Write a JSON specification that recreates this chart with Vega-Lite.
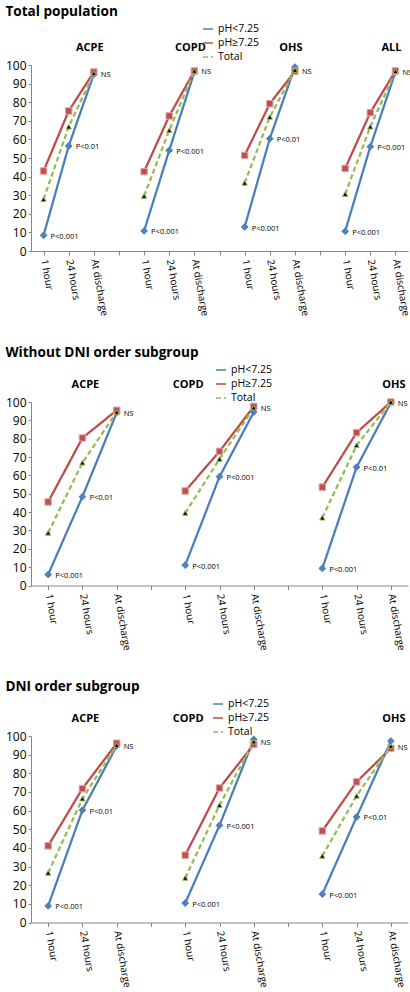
{
  "$schema": "https://vega.github.io/schema/vega-lite/v6.json",
  "background": "white",
  "spacing": 29,
  "config": {
    "view": {"stroke": null},
    "font": "Open Sans",
    "title": {"fontSize": 13.6, "fontWeight": "bold", "anchor": "start", "color": "black"},
    "legend": {"labelFontSize": 10.5, "labelColor": "black"},
    "text": {"color": "black"}
  },
  "datasets": {
    "vals": [
      {"p":1,"g":"ACPE","t":"1 hour","s":"pH<7.25","v":8.4},
      {"p":1,"g":"ACPE","t":"24 hours","s":"pH<7.25","v":56.5},
      {"p":1,"g":"ACPE","t":"At discharge","s":"pH<7.25","v":95.0},
      {"p":1,"g":"ACPE","t":"1 hour","s":"pH≥7.25","v":43.0},
      {"p":1,"g":"ACPE","t":"24 hours","s":"pH≥7.25","v":75.3},
      {"p":1,"g":"ACPE","t":"At discharge","s":"pH≥7.25","v":96.2},
      {"p":1,"g":"ACPE","t":"1 hour","s":"Total","v":27.8},
      {"p":1,"g":"ACPE","t":"24 hours","s":"Total","v":66.8},
      {"p":1,"g":"ACPE","t":"At discharge","s":"Total","v":95.5},
      {"p":1,"g":"COPD","t":"1 hour","s":"pH<7.25","v":10.8},
      {"p":1,"g":"COPD","t":"24 hours","s":"pH<7.25","v":54.1},
      {"p":1,"g":"COPD","t":"At discharge","s":"pH<7.25","v":96.2},
      {"p":1,"g":"COPD","t":"1 hour","s":"pH≥7.25","v":42.7},
      {"p":1,"g":"COPD","t":"24 hours","s":"pH≥7.25","v":72.6},
      {"p":1,"g":"COPD","t":"At discharge","s":"pH≥7.25","v":96.8},
      {"p":1,"g":"COPD","t":"1 hour","s":"Total","v":29.6},
      {"p":1,"g":"COPD","t":"24 hours","s":"Total","v":64.9},
      {"p":1,"g":"COPD","t":"At discharge","s":"Total","v":96.8},
      {"p":1,"g":"OHS","t":"1 hour","s":"pH<7.25","v":12.9},
      {"p":1,"g":"OHS","t":"24 hours","s":"pH<7.25","v":60.4},
      {"p":1,"g":"OHS","t":"At discharge","s":"pH<7.25","v":98.9},
      {"p":1,"g":"OHS","t":"1 hour","s":"pH≥7.25","v":51.4},
      {"p":1,"g":"OHS","t":"24 hours","s":"pH≥7.25","v":79.2},
      {"p":1,"g":"OHS","t":"At discharge","s":"pH≥7.25","v":96.6},
      {"p":1,"g":"OHS","t":"1 hour","s":"Total","v":36.6},
      {"p":1,"g":"OHS","t":"24 hours","s":"Total","v":72.0},
      {"p":1,"g":"OHS","t":"At discharge","s":"Total","v":97.3},
      {"p":1,"g":"ALL","t":"1 hour","s":"pH<7.25","v":10.6},
      {"p":1,"g":"ALL","t":"24 hours","s":"pH<7.25","v":56.1},
      {"p":1,"g":"ALL","t":"At discharge","s":"pH<7.25","v":96.2},
      {"p":1,"g":"ALL","t":"1 hour","s":"pH≥7.25","v":44.4},
      {"p":1,"g":"ALL","t":"24 hours","s":"pH≥7.25","v":74.4},
      {"p":1,"g":"ALL","t":"At discharge","s":"pH≥7.25","v":96.8},
      {"p":1,"g":"ALL","t":"1 hour","s":"Total","v":30.6},
      {"p":1,"g":"ALL","t":"24 hours","s":"Total","v":66.8},
      {"p":1,"g":"ALL","t":"At discharge","s":"Total","v":96.6},
      {"p":2,"g":"ACPE","t":"1 hour","s":"pH<7.25","v":6.0},
      {"p":2,"g":"ACPE","t":"24 hours","s":"pH<7.25","v":48.4},
      {"p":2,"g":"ACPE","t":"At discharge","s":"pH<7.25","v":94.2},
      {"p":2,"g":"ACPE","t":"1 hour","s":"pH≥7.25","v":45.5},
      {"p":2,"g":"ACPE","t":"24 hours","s":"pH≥7.25","v":80.4},
      {"p":2,"g":"ACPE","t":"At discharge","s":"pH≥7.25","v":95.5},
      {"p":2,"g":"ACPE","t":"1 hour","s":"Total","v":28.7},
      {"p":2,"g":"ACPE","t":"24 hours","s":"Total","v":66.9},
      {"p":2,"g":"ACPE","t":"At discharge","s":"Total","v":94.5},
      {"p":2,"g":"COPD","t":"1 hour","s":"pH<7.25","v":11.1},
      {"p":2,"g":"COPD","t":"24 hours","s":"pH<7.25","v":59.3},
      {"p":2,"g":"COPD","t":"At discharge","s":"pH<7.25","v":94.5},
      {"p":2,"g":"COPD","t":"1 hour","s":"pH≥7.25","v":51.5},
      {"p":2,"g":"COPD","t":"24 hours","s":"pH≥7.25","v":73.1},
      {"p":2,"g":"COPD","t":"At discharge","s":"pH≥7.25","v":97.6},
      {"p":2,"g":"COPD","t":"1 hour","s":"Total","v":39.5},
      {"p":2,"g":"COPD","t":"24 hours","s":"Total","v":68.9},
      {"p":2,"g":"COPD","t":"At discharge","s":"Total","v":96.9},
      {"p":2,"g":"OHS","t":"1 hour","s":"pH<7.25","v":9.3},
      {"p":2,"g":"OHS","t":"24 hours","s":"pH<7.25","v":64.5},
      {"p":2,"g":"OHS","t":"At discharge","s":"pH<7.25","v":99.6},
      {"p":2,"g":"OHS","t":"1 hour","s":"pH≥7.25","v":53.6},
      {"p":2,"g":"OHS","t":"24 hours","s":"pH≥7.25","v":83.3},
      {"p":2,"g":"OHS","t":"At discharge","s":"pH≥7.25","v":100.0},
      {"p":2,"g":"OHS","t":"1 hour","s":"Total","v":36.9},
      {"p":2,"g":"OHS","t":"24 hours","s":"Total","v":76.4},
      {"p":2,"g":"OHS","t":"At discharge","s":"Total","v":100.0},
      {"p":3,"g":"ACPE","t":"1 hour","s":"pH<7.25","v":8.9},
      {"p":3,"g":"ACPE","t":"24 hours","s":"pH<7.25","v":60.2},
      {"p":3,"g":"ACPE","t":"At discharge","s":"pH<7.25","v":94.6},
      {"p":3,"g":"ACPE","t":"1 hour","s":"pH≥7.25","v":41.1},
      {"p":3,"g":"ACPE","t":"24 hours","s":"pH≥7.25","v":71.8},
      {"p":3,"g":"ACPE","t":"At discharge","s":"pH≥7.25","v":96.1},
      {"p":3,"g":"ACPE","t":"1 hour","s":"Total","v":26.6},
      {"p":3,"g":"ACPE","t":"24 hours","s":"Total","v":66.4},
      {"p":3,"g":"ACPE","t":"At discharge","s":"Total","v":95.0},
      {"p":3,"g":"COPD","t":"1 hour","s":"pH<7.25","v":10.4},
      {"p":3,"g":"COPD","t":"24 hours","s":"pH<7.25","v":52.1},
      {"p":3,"g":"COPD","t":"At discharge","s":"pH<7.25","v":98.2},
      {"p":3,"g":"COPD","t":"1 hour","s":"pH≥7.25","v":36.1},
      {"p":3,"g":"COPD","t":"24 hours","s":"pH≥7.25","v":72.1},
      {"p":3,"g":"COPD","t":"At discharge","s":"pH≥7.25","v":95.5},
      {"p":3,"g":"COPD","t":"1 hour","s":"Total","v":23.9},
      {"p":3,"g":"COPD","t":"24 hours","s":"Total","v":62.9},
      {"p":3,"g":"COPD","t":"At discharge","s":"Total","v":97.0},
      {"p":3,"g":"OHS","t":"1 hour","s":"pH<7.25","v":15.2},
      {"p":3,"g":"OHS","t":"24 hours","s":"pH<7.25","v":56.6},
      {"p":3,"g":"OHS","t":"At discharge","s":"pH<7.25","v":97.3},
      {"p":3,"g":"OHS","t":"1 hour","s":"pH≥7.25","v":49.1},
      {"p":3,"g":"OHS","t":"24 hours","s":"pH≥7.25","v":75.4},
      {"p":3,"g":"OHS","t":"At discharge","s":"pH≥7.25","v":93.4},
      {"p":3,"g":"OHS","t":"1 hour","s":"Total","v":35.7},
      {"p":3,"g":"OHS","t":"24 hours","s":"Total","v":67.9},
      {"p":3,"g":"OHS","t":"At discharge","s":"Total","v":94.6}
    ],
    "notes": [
      {"p":1,"g":"ACPE","t":"At discharge","v":95.5,"label":"NS"},
      {"p":1,"g":"ACPE","t":"24 hours","v":56.5,"label":"P<0.01"},
      {"p":1,"g":"ACPE","t":"1 hour","v":8.4,"label":"P<0.001"},
      {"p":1,"g":"COPD","t":"At discharge","v":96.8,"label":"NS"},
      {"p":1,"g":"COPD","t":"24 hours","v":54.1,"label":"P<0.001"},
      {"p":1,"g":"COPD","t":"1 hour","v":10.8,"label":"P<0.001"},
      {"p":1,"g":"OHS","t":"At discharge","v":97.3,"label":"NS"},
      {"p":1,"g":"OHS","t":"24 hours","v":60.4,"label":"P<0.01"},
      {"p":1,"g":"OHS","t":"1 hour","v":12.9,"label":"P<0.001"},
      {"p":1,"g":"ALL","t":"At discharge","v":96.6,"label":"NS"},
      {"p":1,"g":"ALL","t":"24 hours","v":56.1,"label":"P<0.001"},
      {"p":1,"g":"ALL","t":"1 hour","v":10.6,"label":"P<0.001"},
      {"p":2,"g":"ACPE","t":"At discharge","v":94.5,"label":"NS"},
      {"p":2,"g":"ACPE","t":"24 hours","v":48.4,"label":"P<0.01"},
      {"p":2,"g":"ACPE","t":"1 hour","v":6.0,"label":"P<0.001"},
      {"p":2,"g":"COPD","t":"At discharge","v":96.9,"label":"NS"},
      {"p":2,"g":"COPD","t":"24 hours","v":59.3,"label":"P<0.001"},
      {"p":2,"g":"COPD","t":"1 hour","v":11.1,"label":"P<0.001"},
      {"p":2,"g":"OHS","t":"At discharge","v":100.0,"label":"NS"},
      {"p":2,"g":"OHS","t":"24 hours","v":64.5,"label":"P<0.01"},
      {"p":2,"g":"OHS","t":"1 hour","v":9.3,"label":"P<0.001"},
      {"p":3,"g":"ACPE","t":"At discharge","v":95.0,"label":"NS"},
      {"p":3,"g":"ACPE","t":"24 hours","v":60.2,"label":"P<0.01"},
      {"p":3,"g":"ACPE","t":"1 hour","v":8.9,"label":"P<0.001"},
      {"p":3,"g":"COPD","t":"At discharge","v":97.0,"label":"NS"},
      {"p":3,"g":"COPD","t":"24 hours","v":52.1,"label":"P<0.001"},
      {"p":3,"g":"COPD","t":"1 hour","v":10.4,"label":"P<0.001"},
      {"p":3,"g":"OHS","t":"At discharge","v":94.6,"label":"NS"},
      {"p":3,"g":"OHS","t":"24 hours","v":56.6,"label":"P<0.01"},
      {"p":3,"g":"OHS","t":"1 hour","v":15.2,"label":"P<0.001"}
    ],
    "heads": [
      {"p":1,"g":"ACPE","t":"At discharge"},
      {"p":1,"g":"COPD","t":"At discharge"},
      {"p":1,"g":"OHS","t":"At discharge"},
      {"p":1,"g":"ALL","t":"At discharge"},
      {"p":2,"g":"ACPE","t":"24 hours"},
      {"p":2,"g":"COPD","t":"1 hour"},
      {"p":2,"g":"OHS","t":"At discharge"},
      {"p":3,"g":"ACPE","t":"24 hours"},
      {"p":3,"g":"COPD","t":"1 hour"},
      {"p":3,"g":"OHS","t":"At discharge"}
    ]
  },
  "resolve": {
    "scale": {"x": "independent", "y": "independent", "color": "independent", "strokeDash": "independent"},
    "legend": {"color": "independent", "strokeDash": "independent"}
  },
  "vconcat": [
    {
      "width": 377, "height": 186,
      "title": "Total population",
      "encoding": {
        "x": {"field": "k", "type": "nominal",
          "scale": {"paddingInner": 0, "paddingOuter": 0,
            "domain": ["ACPE|1 hour","ACPE|24 hours","ACPE|At discharge","_1","COPD|1 hour","COPD|24 hours","COPD|At discharge","_2","OHS|1 hour","OHS|24 hours","OHS|At discharge","_3","ALL|1 hour","ALL|24 hours","ALL|At discharge"]},
          "axis": {"title": null, "labelExpr": "indexof(datum.value,'|') >= 0 ? slice(datum.value, indexof(datum.value,'|') + 1) : ''", "labelAngle": 80, "labelFontSize": 10, "labelPadding": 4, "tickSize": 4, "domainColor": "#868686", "tickColor": "#868686", "labelColor": "black", "grid": false}},
        "y": {"field": "v", "type": "quantitative",
          "scale": {"domain": [0, 100], "nice": false, "zero": false},
          "axis": {"title": null, "values": [0,10,20,30,40,50,60,70,80,90,100], "tickSize": 3, "labelPadding": 2, "labelFontSize": 12, "domainColor": "#868686", "tickColor": "#868686", "labelColor": "black", "grid": false}}
      },
      "layer": [
        {
          "data": {"name": "vals"},
          "transform": [{"filter": "datum.p == 1"}, {"calculate": "datum.g + '|' + datum.t", "as": "k"}],
          "mark": {"type": "line", "strokeWidth": 2.25},
          "encoding": {
            "color": {"field": "s", "type": "nominal",
              "scale": {"domain": ["pH<7.25","pH≥7.25","Total"], "range": ["#4A7EBB","#BE4B48","#98B954"]},
              "legend": {"orient": "none", "legendX": 171, "legendY": -42, "title": null}},
            "strokeDash": {"field": "s", "type": "nominal",
              "scale": {"domain": ["pH<7.25","pH≥7.25","Total"], "range": [[1,0],[1,0],[5,3]]},
              "legend": {"orient": "none", "legendX": 171, "legendY": -42, "title": null}},
            "detail": {"field": "g"}
          }
        },
        {
          "data": {"name": "vals"},
          "transform": [{"filter": "datum.p == 1"}, {"calculate": "datum.g + '|' + datum.t", "as": "k"}],
          "mark": {"type": "point", "filled": true, "opacity": 1, "strokeWidth": 1},
          "encoding": {
            "shape": {"condition": [{"test": "datum.s === 'Total'", "value": "triangle-up"}, {"test": "datum.s === 'pH≥7.25'", "value": "square"}], "value": "diamond"},
            "fill": {"condition": [{"test": "datum.s === 'Total'", "value": "#000000"}, {"test": "datum.s === 'pH≥7.25'", "value": "#C0504D"}], "value": "#4F81BD"},
            "stroke": {"condition": [{"test": "datum.s === 'Total'", "value": "#98B954"}, {"test": "datum.s === 'pH≥7.25'", "value": "#E0A8A6"}], "value": "#4A7EBB"},
            "size": {"condition": [{"test": "datum.s === 'Total'", "value": 28}, {"test": "datum.s === 'pH≥7.25'", "value": 42}], "value": 45}
          }
        },
        {
          "data": {"name": "notes"},
          "transform": [{"filter": "datum.p == 1"}, {"calculate": "datum.g + '|' + datum.t", "as": "k"}],
          "mark": {"type": "text", "align": "left", "baseline": "middle", "dx": 7, "dy": 1.5, "fontSize": 7.5},
          "encoding": {"text": {"field": "label"}}
        },
        {
          "data": {"name": "heads"},
          "transform": [{"filter": "datum.p == 1"}, {"calculate": "datum.g + '|' + datum.t", "as": "k"}, {"calculate": "109", "as": "v"}],
          "mark": {"type": "text", "align": "center", "baseline": "middle", "dx": -4, "fontSize": 11, "fontWeight": "bold"},
          "encoding": {"text": {"field": "g"}}
        }
      ]
    },
    {
      "width": 377, "height": 183.5,
      "title": "Without DNI order subgroup",
      "encoding": {
        "x": {"field": "k", "type": "nominal",
          "scale": {"paddingInner": 0, "paddingOuter": 0,
            "domain": ["ACPE|1 hour","ACPE|24 hours","ACPE|At discharge","_1","COPD|1 hour","COPD|24 hours","COPD|At discharge","_2","OHS|1 hour","OHS|24 hours","OHS|At discharge"]},
          "axis": {"title": null, "labelExpr": "indexof(datum.value,'|') >= 0 ? slice(datum.value, indexof(datum.value,'|') + 1) : ''", "labelAngle": 80, "labelFontSize": 10, "labelPadding": 4, "tickSize": 4, "domainColor": "#868686", "tickColor": "#868686", "labelColor": "black", "grid": false}},
        "y": {"field": "v", "type": "quantitative",
          "scale": {"domain": [0, 100], "nice": false, "zero": false},
          "axis": {"title": null, "values": [0,10,20,30,40,50,60,70,80,90,100], "tickSize": 3, "labelPadding": 2, "labelFontSize": 12, "domainColor": "#868686", "tickColor": "#868686", "labelColor": "black", "grid": false}}
      },
      "layer": [
        {
          "data": {"name": "vals"},
          "transform": [{"filter": "datum.p == 2"}, {"calculate": "datum.g + '|' + datum.t", "as": "k"}],
          "mark": {"type": "line", "strokeWidth": 2.25},
          "encoding": {
            "color": {"field": "s", "type": "nominal",
              "scale": {"domain": ["pH<7.25","pH≥7.25","Total"], "range": ["#4A7EBB","#BE4B48","#98B954"]},
              "legend": {"orient": "none", "legendX": 184, "legendY": -38, "title": null}},
            "strokeDash": {"field": "s", "type": "nominal",
              "scale": {"domain": ["pH<7.25","pH≥7.25","Total"], "range": [[1,0],[1,0],[5,3]]},
              "legend": {"orient": "none", "legendX": 184, "legendY": -38, "title": null}},
            "detail": {"field": "g"}
          }
        },
        {
          "data": {"name": "vals"},
          "transform": [{"filter": "datum.p == 2"}, {"calculate": "datum.g + '|' + datum.t", "as": "k"}],
          "mark": {"type": "point", "filled": true, "opacity": 1, "strokeWidth": 1},
          "encoding": {
            "shape": {"condition": [{"test": "datum.s === 'Total'", "value": "triangle-up"}, {"test": "datum.s === 'pH≥7.25'", "value": "square"}], "value": "diamond"},
            "fill": {"condition": [{"test": "datum.s === 'Total'", "value": "#000000"}, {"test": "datum.s === 'pH≥7.25'", "value": "#C0504D"}], "value": "#4F81BD"},
            "stroke": {"condition": [{"test": "datum.s === 'Total'", "value": "#98B954"}, {"test": "datum.s === 'pH≥7.25'", "value": "#E0A8A6"}], "value": "#4A7EBB"},
            "size": {"condition": [{"test": "datum.s === 'Total'", "value": 28}, {"test": "datum.s === 'pH≥7.25'", "value": 42}], "value": 45}
          }
        },
        {
          "data": {"name": "notes"},
          "transform": [{"filter": "datum.p == 2"}, {"calculate": "datum.g + '|' + datum.t", "as": "k"}],
          "mark": {"type": "text", "align": "left", "baseline": "middle", "dx": 7, "dy": 1.5, "fontSize": 7.5},
          "encoding": {"text": {"field": "label"}}
        },
        {
          "data": {"name": "heads"},
          "transform": [{"filter": "datum.p == 2"}, {"calculate": "datum.g + '|' + datum.t", "as": "k"}, {"calculate": "109", "as": "v"}],
          "mark": {"type": "text", "align": "center", "baseline": "middle", "dx": 3, "fontSize": 11, "fontWeight": "bold"},
          "encoding": {"text": {"field": "g"}}
        }
      ]
    },
    {
      "width": 377, "height": 186.5,
      "title": "DNI order subgroup",
      "encoding": {
        "x": {"field": "k", "type": "nominal",
          "scale": {"paddingInner": 0, "paddingOuter": 0,
            "domain": ["ACPE|1 hour","ACPE|24 hours","ACPE|At discharge","_1","COPD|1 hour","COPD|24 hours","COPD|At discharge","_2","OHS|1 hour","OHS|24 hours","OHS|At discharge"]},
          "axis": {"title": null, "labelExpr": "indexof(datum.value,'|') >= 0 ? slice(datum.value, indexof(datum.value,'|') + 1) : ''", "labelAngle": 80, "labelFontSize": 10, "labelPadding": 4, "tickSize": 4, "domainColor": "#868686", "tickColor": "#868686", "labelColor": "black", "grid": false}},
        "y": {"field": "v", "type": "quantitative",
          "scale": {"domain": [0, 100], "nice": false, "zero": false},
          "axis": {"title": null, "values": [0,10,20,30,40,50,60,70,80,90,100], "tickSize": 3, "labelPadding": 2, "labelFontSize": 12, "domainColor": "#868686", "tickColor": "#868686", "labelColor": "black", "grid": false}}
      },
      "layer": [
        {
          "data": {"name": "vals"},
          "transform": [{"filter": "datum.p == 3"}, {"calculate": "datum.g + '|' + datum.t", "as": "k"}],
          "mark": {"type": "line", "strokeWidth": 2.25},
          "encoding": {
            "color": {"field": "s", "type": "nominal",
              "scale": {"domain": ["pH<7.25","pH≥7.25","Total"], "range": ["#4A7EBB","#BE4B48","#98B954"]},
              "legend": {"orient": "none", "legendX": 181, "legendY": -38, "title": null}},
            "strokeDash": {"field": "s", "type": "nominal",
              "scale": {"domain": ["pH<7.25","pH≥7.25","Total"], "range": [[1,0],[1,0],[5,3]]},
              "legend": {"orient": "none", "legendX": 181, "legendY": -38, "title": null}},
            "detail": {"field": "g"}
          }
        },
        {
          "data": {"name": "vals"},
          "transform": [{"filter": "datum.p == 3"}, {"calculate": "datum.g + '|' + datum.t", "as": "k"}],
          "mark": {"type": "point", "filled": true, "opacity": 1, "strokeWidth": 1},
          "encoding": {
            "shape": {"condition": [{"test": "datum.s === 'Total'", "value": "triangle-up"}, {"test": "datum.s === 'pH≥7.25'", "value": "square"}], "value": "diamond"},
            "fill": {"condition": [{"test": "datum.s === 'Total'", "value": "#000000"}, {"test": "datum.s === 'pH≥7.25'", "value": "#C0504D"}], "value": "#4F81BD"},
            "stroke": {"condition": [{"test": "datum.s === 'Total'", "value": "#98B954"}, {"test": "datum.s === 'pH≥7.25'", "value": "#E0A8A6"}], "value": "#4A7EBB"},
            "size": {"condition": [{"test": "datum.s === 'Total'", "value": 28}, {"test": "datum.s === 'pH≥7.25'", "value": 42}], "value": 45}
          }
        },
        {
          "data": {"name": "notes"},
          "transform": [{"filter": "datum.p == 3"}, {"calculate": "datum.g + '|' + datum.t", "as": "k"}],
          "mark": {"type": "text", "align": "left", "baseline": "middle", "dx": 7, "dy": 1.5, "fontSize": 7.5},
          "encoding": {"text": {"field": "label"}}
        },
        {
          "data": {"name": "heads"},
          "transform": [{"filter": "datum.p == 3"}, {"calculate": "datum.g + '|' + datum.t", "as": "k"}, {"calculate": "109", "as": "v"}],
          "mark": {"type": "text", "align": "center", "baseline": "middle", "dx": 3, "fontSize": 11, "fontWeight": "bold"},
          "encoding": {"text": {"field": "g"}}
        }
      ]
    }
  ]
}
